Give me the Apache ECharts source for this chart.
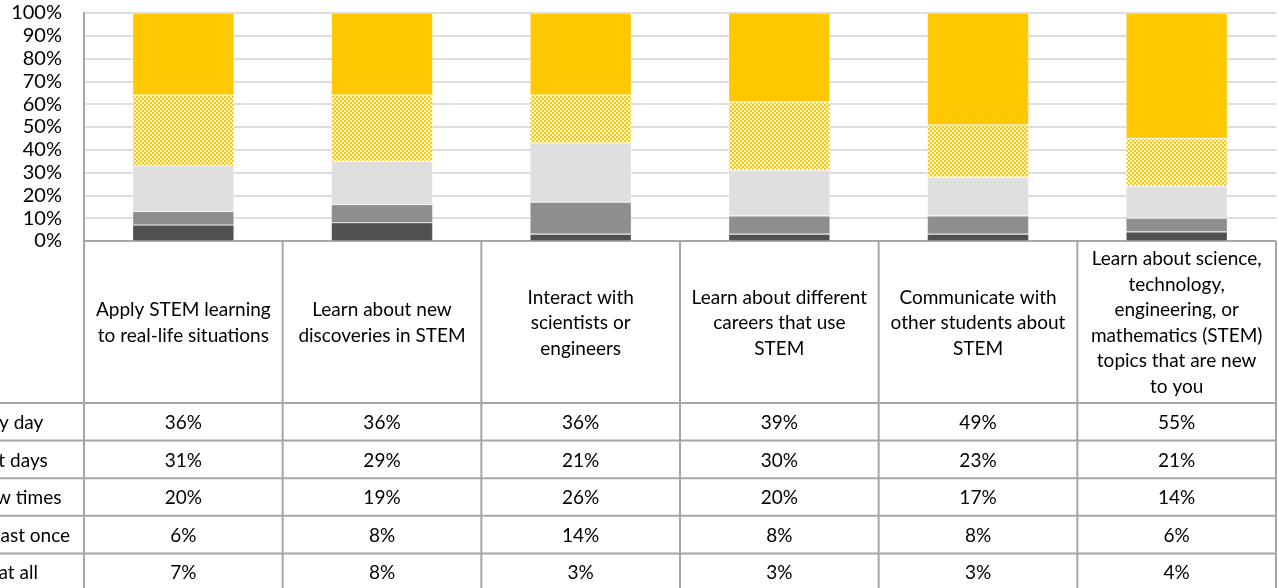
<!DOCTYPE html>
<html>
<head>
<meta charset="utf-8">
<script src="https://cdn.jsdelivr.net/npm/echarts@6/dist/echarts.min.js"></script>
<style>
  html, body { margin: 0; padding: 0; background: #ffffff; }
  #chart { width: 1278px; height: 588px; }
</style>
</head>
<body>
<div id="chart"></div>
<script>
// Activities (column headers of the table, one bar each)
const categories = [
  'Apply STEM learning\nto real-life situations',
  'Learn about new\ndiscoveries in STEM',
  'Interact with\nscientists or\nengineers',
  'Learn about different\ncareers that use\nSTEM',
  'Communicate with\nother students about\nSTEM',
  'Learn about science,\ntechnology,\nengineering, or\nmathematics (STEM)\ntopics that are new\nto you'
];

// Frequency levels, listed top row first
const levels = ['Every day', 'Most days', 'A few times', 'At least once', 'Not at all'];

// Percent of students per level and activity
const everyDay    = [36, 36, 36, 39, 49, 55];
const mostDays    = [31, 29, 21, 30, 23, 21];
const aFewTimes   = [20, 19, 26, 20, 17, 14];
const atLeastOnce = [6, 8, 14, 8, 8, 6];
const notAtAll    = [7, 8, 3, 3, 3, 4];

const rows = [everyDay, mostDays, aFewTimes, atLeastOnce, notAtAll];

// Y axis ticks
const yTicks = [0, 10, 20, 30, 40, 50, 60, 70, 80, 90, 100];

const FONT = 'Lato, "Open Sans", sans-serif';
const TABLE_FONT = '19px ' + FONT;

// checkered fill for "Most days"
function checker() {
  const c = document.createElement('canvas');
  c.width = 4; c.height = 4;
  const g = c.getContext('2d');
  g.fillStyle = '#fff6d8'; g.fillRect(0, 0, 4, 4);
  g.fillStyle = '#ffc800';
  g.fillRect(0, 0, 2, 2);
  g.fillRect(2, 2, 2, 2);
  return c;
}

const fills = {
  'Every day': '#ffc800',
  'Most days': { image: checker(), repeat: 'repeat' },
  'A few times': '#dfdfdf',
  'At least once': '#8e8e8e',
  'Not at all': '#505050'
};

const chart = echarts.init(document.getElementById('chart'), null, { renderer: 'canvas' });

const grid = { left: 84, right: 2, top: 13, bottom: 347 };

// stack from the bottom: "Not at all" first
const stackOrder = levels.slice().reverse();
const series = stackOrder.map(name => ({
  name: name,
  type: 'bar',
  stack: 'total',
  barWidth: '51%',
  data: rows[levels.indexOf(name)],
  itemStyle: { color: fills[name], borderColor: 'rgba(255,255,255,0.55)', borderWidth: 0.6 },
  emphasis: { disabled: true },
  animation: false
}));

chart.setOption({
  animation: false,
  grid: grid,
  xAxis: {
    type: 'category',
    data: categories,
    axisLine: { show: false },
    axisTick: { show: false },
    axisLabel: { show: false },
    splitLine: { show: false }
  },
  yAxis: {
    type: 'value',
    min: yTicks[0],
    max: yTicks[yTicks.length - 1],
    interval: 10,
    axisLine: { show: true, lineStyle: { color: '#a6a6a6', width: 2 } },
    axisTick: { show: false },
    axisLabel: {
      formatter: v => v + '%',
      color: '#000000',
      fontFamily: FONT,
      fontSize: 20,
      margin: 22
    },
    splitLine: { show: true, lineStyle: { color: '#dddddd', width: 2 } }
  },
  series: series
});

// Data table under the plot, laid out on the category axis bands
function drawTable() {
  const n = categories.length;
  const c0 = chart.convertToPixel({ xAxisIndex: 0 }, 0);
  const c1 = chart.convertToPixel({ xAxisIndex: 0 }, 1);
  const band = c1 - c0;
  const yBase = chart.convertToPixel({ yAxisIndex: 0 }, 0);
  const headerBottom = 403;
  const rowH = 37.6;
  const lineColor = '#a6a6a6';
  const els = [];
  const edges = [];
  for (let i = 0; i <= n; i++) edges.push(c0 - band / 2 + i * band);
  const tableBottom = headerBottom + rowH * levels.length;

  // horizontal rules
  const hy = [yBase, headerBottom];
  for (let r = 1; r <= levels.length; r++) hy.push(headerBottom + r * rowH);
  hy.forEach((y, k) => {
    els.push({
      type: 'line',
      shape: { x1: k === 0 ? edges[0] : 0, y1: y, x2: edges[n], y2: y },
      style: { stroke: lineColor, lineWidth: 2 },
      silent: true
    });
  });
  // vertical rules
  edges.forEach(x => {
    els.push({
      type: 'line',
      shape: { x1: x, y1: yBase, x2: x, y2: tableBottom + 10 },
      style: { stroke: lineColor, lineWidth: 2 },
      silent: true
    });
  });
  // column headers
  categories.forEach((label, i) => {
    const cx = chart.convertToPixel({ xAxisIndex: 0 }, i);
    els.push({
      type: 'text',
      x: cx,
      y: (yBase + headerBottom) / 2 + 1,
      style: {
        text: label,
        fill: '#000000',
        font: TABLE_FONT,
        align: 'center',
        verticalAlign: 'middle',
        lineHeight: 25.5
      },
      silent: true
    });
  });
  // row labels and values
  levels.forEach((lvl, r) => {
    const cy = headerBottom + r * rowH + rowH / 2 + 1;
    els.push({
      type: 'text',
      x: -38,
      y: cy,
      style: {
        text: lvl,
        fill: '#000000',
        font: TABLE_FONT,
        align: 'left',
        verticalAlign: 'middle'
      },
      silent: true
    });
    rows[r].forEach((v, i) => {
      const cx = chart.convertToPixel({ xAxisIndex: 0 }, i);
      els.push({
        type: 'text',
        x: cx,
        y: cy,
        style: {
          text: v + '%',
          fill: '#000000',
          font: TABLE_FONT,
          align: 'center',
          verticalAlign: 'middle'
        },
        silent: true
      });
    });
  });
  chart.setOption({ graphic: { elements: els } });
}
drawTable();
</script>
</body>
</html>
